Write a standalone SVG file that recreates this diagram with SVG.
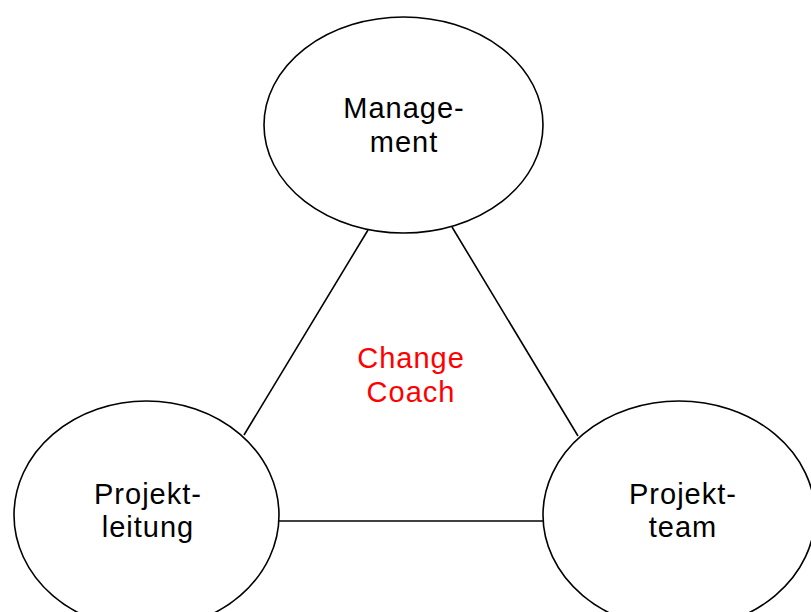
<svg xmlns="http://www.w3.org/2000/svg" width="811" height="612" viewBox="0 0 811 612">
  <style>
    .node { fill: #ffffff; stroke: #000000; stroke-width: 1.6; }
    .link { stroke: #000000; stroke-width: 1.6; fill: none; }
    .label { font-family: "Liberation Sans", Arial, sans-serif; font-size: 29px; letter-spacing: 1px; text-anchor: middle; fill: #000000; }
    .coach { fill: #ff0000; }
  </style>
  <rect width="811" height="612" fill="#ffffff"/>
  <g id="connectors">
    <line class="link" x1="368" y1="230" x2="244" y2="435"/>
    <line class="link" x1="452" y1="227" x2="578" y2="436"/>
    <line class="link" x1="278" y1="521" x2="543" y2="521"/>
  </g>
  <g id="management">
    <ellipse class="node" cx="403.5" cy="125" rx="139.5" ry="108"/>
    <text class="label" x="404" y="118">Manage-</text>
    <text class="label" x="404" y="152">ment</text>
  </g>
  <g id="projektleitung">
    <ellipse class="node" cx="146.5" cy="515" rx="132.5" ry="114"/>
    <text class="label" x="148" y="504">Projekt-</text>
    <text class="label" x="148" y="537">leitung</text>
  </g>
  <g id="projektteam">
    <ellipse class="node" cx="679" cy="515" rx="136" ry="114"/>
    <text class="label" x="683" y="504">Projekt-</text>
    <text class="label" x="683" y="537">team</text>
  </g>
  <g id="change-coach">
    <text class="label coach" x="411" y="368">Change</text>
    <text class="label coach" x="411" y="402">Coach</text>
  </g>
</svg>
